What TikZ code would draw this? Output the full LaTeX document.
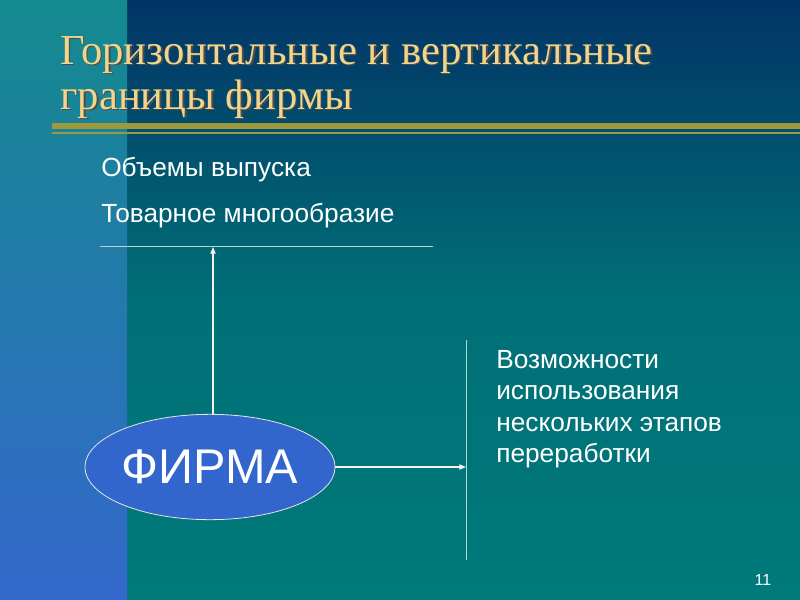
\documentclass[tikz,border=0pt]{standalone}
\usepackage{fontspec}
\setmainfont{Liberation Sans}
\newfontfamily\titlefont{Liberation Serif}
\usetikzlibrary{shapes.geometric,arrows.meta}
\definecolor{navy}{HTML}{023466}
\definecolor{teal1}{HTML}{007A7A}
\definecolor{stripT}{HTML}{138A8E}
\definecolor{stripB}{HTML}{3468CC}
\definecolor{gold}{HTML}{9C9A3C}
\definecolor{titlec}{HTML}{F2D58A}
\definecolor{firmblue}{HTML}{3366CC}
\tikzset{conn/.style={draw=white!90!gray,line width=0.8pt},
  txt/.style={text=white,font=\fontsize{19.7}{19.7}\selectfont,anchor=west,inner sep=0pt},
  ttl/.style={anchor=base west,inner sep=0pt,font=\titlefont\fontsize{32}{32}\selectfont},
  arr/.style={conn,-{Triangle[length=5pt,width=4pt]}}}
\begin{document}
\begin{tikzpicture}[x=0.75pt,y=-0.75pt]
\useasboundingbox (0,0) rectangle (800,600);
\shade[top color=navy,bottom color=teal1,middle color=teal1!85!navy] (0,0) rectangle (800,600);
\shade[top color=stripT,bottom color=stripB] (0,0) rectangle (127,600);
\fill[gold] (52,123) rectangle (800,129);
\fill[gold] (52,132) rectangle (800,134);
\node (s1) [ttl,text=black!70] at (61.5,65.5) {Горизонтальные и вертикальные};
\node (s2) [ttl,text=black!70] at (61.5,110.5) {границы фирмы};
\node (t1) [ttl,text=titlec] at (60,64) {Горизонтальные и вертикальные};
\node (t2) [ttl,text=titlec] at (60,109) {границы фирмы};
\node (a1) [txt] at (101,170) {Объемы выпуска};
\node (a2) [txt] at (101,216) {Товарное многообразие};
\coordinate (hl) at (100,246); \coordinate (hr) at (433,246);
\draw[conn,line width=0.6pt,draw=white!70!teal1] (hl) -- (hr);
\node (firm) [ellipse,fill=firmblue,draw=white!80!gray,line width=0.6pt,minimum width=186pt,minimum height=79pt,text=white,font=\fontsize{36.5}{36.5}\selectfont,inner sep=0pt] at (210,467) {ФИРМА};
\coordinate (up) at (213,247);
\draw[arr] (firm.north -| up) -- (up);
\coordinate (vt) at (466,340); \coordinate (vb) at (466,560);
\draw[conn,line width=0.6pt,draw=white!70!teal1] (vt) -- (vb);
\draw[arr] (firm.east) -- (firm.east -| vt);
\node (b) [txt,align=left,font=\fontsize{19.7}{23.5}\selectfont,anchor=north west] at (496,350) {Возможности\\использования\\нескольких этапов\\переработки};
\node (n) [text=white,font=\fontsize{12}{12}\selectfont] at (763,580) {11};
\end{tikzpicture}
\end{document}
